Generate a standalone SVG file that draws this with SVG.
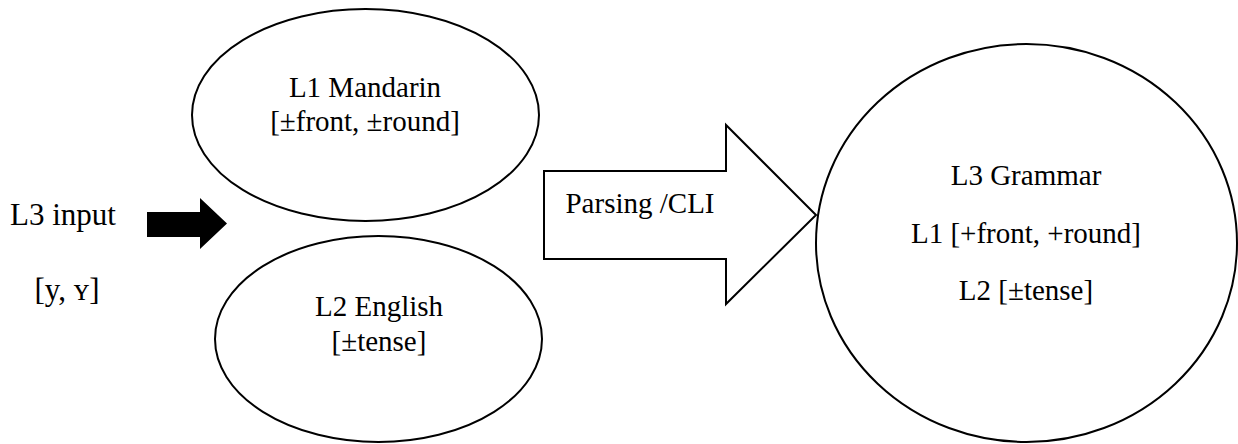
<svg xmlns="http://www.w3.org/2000/svg" width="1238" height="444" viewBox="0 0 1238 444">
<style>
.shape{fill:#fff;stroke:#000;stroke-width:2}
text{font-family:"Liberation Serif","Times New Roman",serif;fill:#000;text-anchor:middle}
.t{font-size:29px}
.l{font-size:31px}
</style>
<rect width="1238" height="444" fill="#fff"/>
<g id="input">
<text class="l" x="63" y="225">L3 input</text>
<text class="l" x="67" y="300">[y, ʏ]</text>
</g>
<g id="connectors">
<polygon points="147,212 200,212 200,198 227,223.5 200,249 200,237 147,237" fill="#000"/>
<polygon class="shape" points="544,171 726,171 726,125 816,215 726,304 726,259 544,259"/>
<text class="t" x="640" y="213">Parsing /CLI</text>
</g>
<g id="l1">
<ellipse class="shape" cx="365.5" cy="115" rx="173.5" ry="106"/>
<text class="t" x="365" y="97">L1 Mandarin</text>
<text class="t" x="365" y="131">[±front, ±round]</text>
</g>
<g id="l2">
<ellipse class="shape" cx="378.5" cy="339" rx="163.5" ry="103"/>
<text class="t" x="379" y="316">L2 English</text>
<text class="t" x="379" y="351">[±tense]</text>
</g>
<g id="l3">
<ellipse class="shape" cx="1026.5" cy="243" rx="210.5" ry="199"/>
<text class="t" x="1026" y="185">L3 Grammar</text>
<text class="t" x="1026" y="243">L1 [+front, +round]</text>
<text class="t" x="1026" y="300">L2 [±tense]</text>
</g>
</svg>
